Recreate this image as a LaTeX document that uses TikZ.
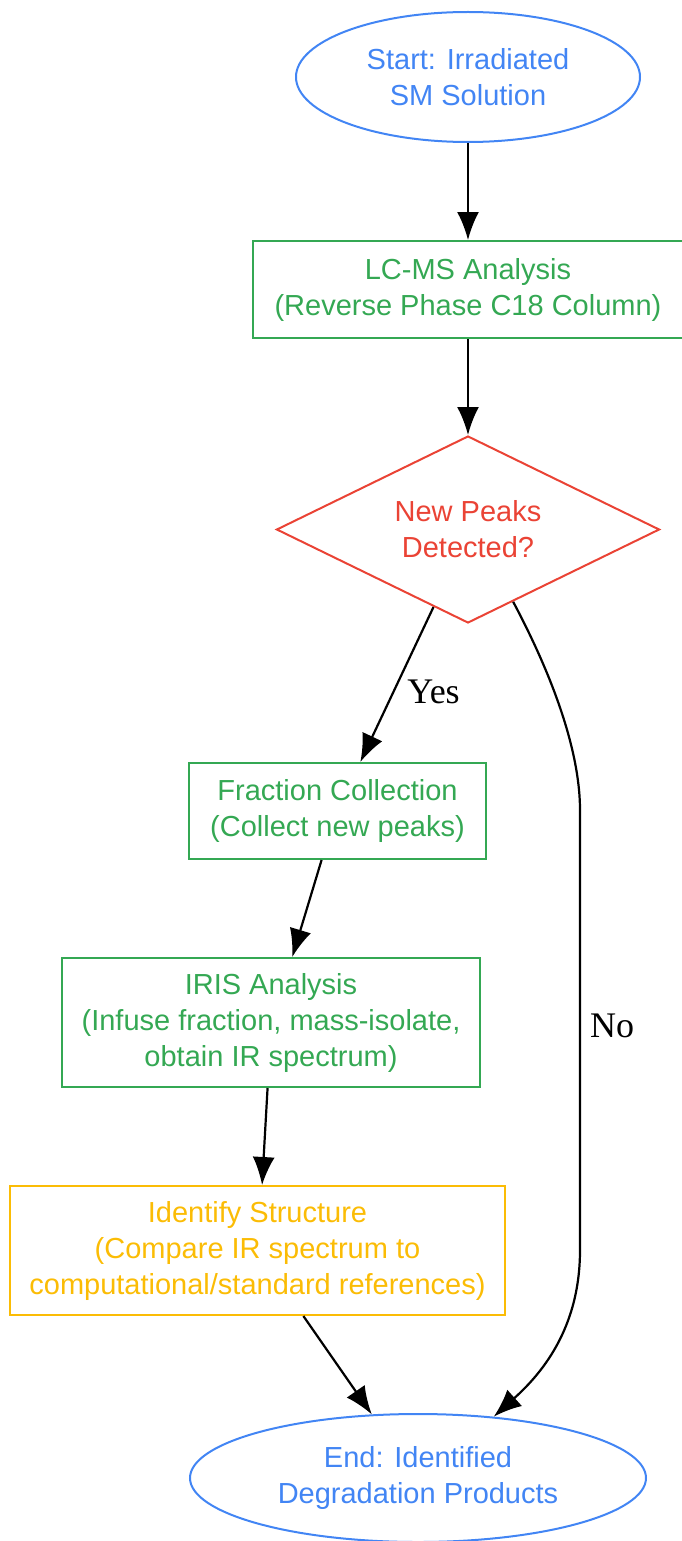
\documentclass[tikz,border=0pt]{standalone}
\usepackage{fontspec}
\setmainfont{Liberation Serif}
\setsansfont{Liberation Sans}
\usetikzlibrary{shapes.geometric,arrows.meta}
\definecolor{gblue}{HTML}{4285F4}
\definecolor{ggreen}{HTML}{34A853}
\definecolor{gred}{HTML}{EA4335}
\definecolor{gyellow}{HTML}{FBBC05}
\begin{document}
\begin{tikzpicture}[x=1pt,y=-1pt,>={Latex[length=28pt,width=22pt]},
  every node/.style={font=\sffamily\fontsize{29}{36}\selectfont,align=center},
  ell/.style={ellipse,draw=gblue,text=gblue,line width=2pt,inner sep=0pt},
  box/.style={rectangle,draw=#1,text=#1,line width=2pt,inner sep=0pt},
  lab/.style={font=\rmfamily\fontsize{36}{40}\selectfont,inner sep=4pt}]
\useasboundingbox (0,0) rectangle (681,1541);

\node[ell,minimum width=344pt,minimum height=130pt] (start) at (468,77) {Start: Irradiated\\SM Solution};
\node[box=ggreen,minimum width=430pt,minimum height=97pt] (lcms) at (468,289.5) {LC-MS Analysis\\(Reverse Phase C18 Column)};
\node[diamond,shape aspect=2,draw=gred,text=gred,line width=2pt,inner sep=0pt,minimum width=383pt,minimum height=187pt] (dia) at (468,529.5) {New Peaks\\Detected?};
\node[box=ggreen,minimum width=297pt,minimum height=96pt] (frac) at (337.5,811) {Fraction Collection\\(Collect new peaks)};
\node[box=ggreen,minimum width=418pt,minimum height=129pt] (iris) at (271,1022.5) {IRIS Analysis\\(Infuse fraction, mass-isolate,\\obtain IR spectrum)};
\node[box=gyellow,minimum width=495pt,minimum height=129pt] (ident) at (257.5,1250.5) {Identify Structure\\(Compare IR spectrum to\\computational/standard references)};
\node[ell,minimum width=456pt,minimum height=128pt] (end) at (418,1478) {End: Identified\\Degradation Products};

\begin{scope}[line width=2.2pt]
\draw[->] (start) -- (lcms);
\draw[->] (lcms) -- (dia);
\draw[->] (dia.-114) -- node[lab,right,pos=0.55,xshift=9pt]{Yes} (frac.65);
\draw[->] (dia.-58) .. controls (560,690) and (580,760) .. (580,810) -- node[lab,right,pos=0.49,xshift=5pt]{No} (580,1250) .. controls (580,1330) and (540,1375) .. (end.39);
\draw[->] (frac.-108) -- (iris.72);
\draw[->] (iris.-93) -- (ident.86);
\draw[->] (ident.-55) -- (end.126);
\end{scope}
\end{tikzpicture}
\end{document}
